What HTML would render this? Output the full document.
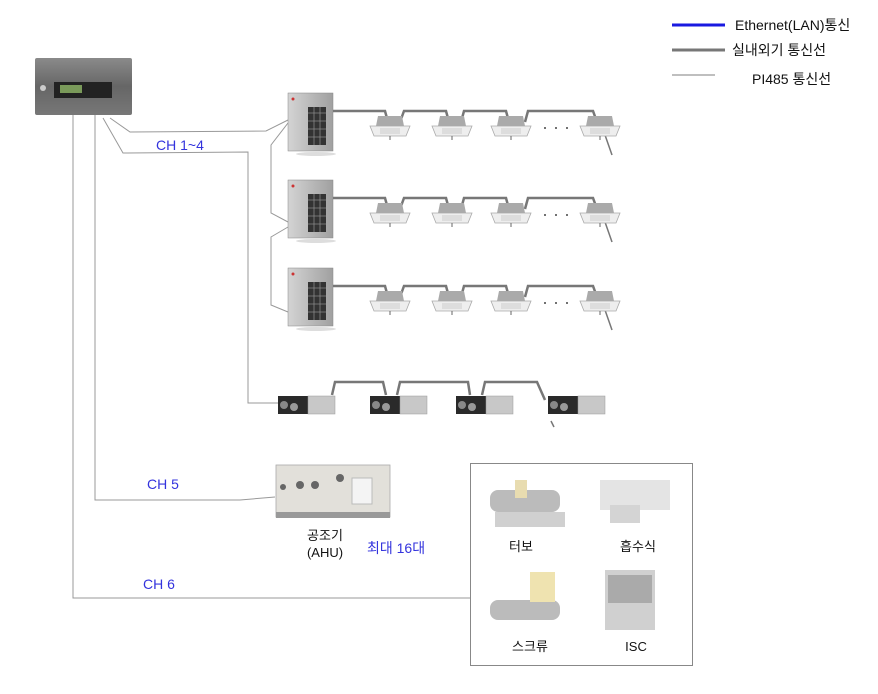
<!DOCTYPE html>
<html><head><meta charset="utf-8"><style>
html,body{margin:0;padding:0;background:#fff;}
svg{display:block;}
text{font-family:"Liberation Sans","Noto Sans CJK KR",sans-serif;}
</style></head><body>
<svg width="878" height="694" viewBox="0 0 878 694" xmlns="http://www.w3.org/2000/svg">
<defs>
<linearGradient id="ctl" x1="0" y1="0" x2="0" y2="1"><stop offset="0" stop-color="#8a8a8a"/><stop offset="0.5" stop-color="#666"/><stop offset="1" stop-color="#777"/></linearGradient>
<linearGradient id="odug" x1="0" y1="0" x2="1" y2="0"><stop offset="0" stop-color="#d4d4d4"/><stop offset="1" stop-color="#a0a0a0"/></linearGradient>
<g id="odu">
<rect x="0" y="0" width="45" height="58" fill="url(#odug)" stroke="#888" stroke-width="0.5"/>
<rect x="20" y="14" width="18" height="38" fill="#333"/>
<g stroke="#888" stroke-width="0.8"><line x1="20" y1="20" x2="38" y2="20"/><line x1="20" y1="28" x2="38" y2="28"/><line x1="20" y1="36" x2="38" y2="36"/><line x1="20" y1="44" x2="38" y2="44"/><line x1="26" y1="14" x2="26" y2="52"/><line x1="32" y1="14" x2="32" y2="52"/></g>
<circle cx="5" cy="6" r="1.5" fill="#c33"/>
<ellipse cx="28" cy="61" rx="20" ry="2" fill="#ddd"/>
</g>
<g id="cas">
<path d="M8 8 L32 8 L34 18 L6 18 Z" fill="#aaa"/>
<path d="M0 18 L40 18 L36 28 L4 28 Z" fill="#eee" stroke="#aaa" stroke-width="0.8"/>
<rect x="10" y="20" width="20" height="6" fill="#ddd"/>
<line x1="20" y1="28" x2="20" y2="32" stroke="#666"/>
</g>
<g id="erv">
<rect x="0" y="2" width="30" height="18" fill="#2a2a2a"/>
<rect x="30" y="2" width="27" height="18" fill="#c8c8c8" stroke="#999" stroke-width="0.5"/>
<circle cx="6" cy="11" r="4" fill="#888"/><circle cx="16" cy="13" r="4" fill="#999"/>
</g>
</defs>

<!-- controller -->
<rect x="35" y="58" width="97" height="57" rx="2" fill="url(#ctl)"/>
<rect x="54" y="82" width="58" height="16" fill="#222"/>
<rect x="60" y="85" width="22" height="8" fill="#7a9a5a"/>
<circle cx="43" cy="88" r="3" fill="#ccc"/>

<!-- PI485 thin lines -->
<g fill="none" stroke="#999" stroke-width="1">
<polyline points="73,115 73,598 470,598"/>
<polyline points="95,115 95,500 240,500 275,497"/>
<polyline points="103,118 123,153 248,152 248,403 278,403"/>
<polyline points="110,118 130,132 266,131 288,120"/>
<polyline points="288,123 271,145 271,213 288,222"/>
<polyline points="288,227 271,237 271,305 288,312"/>
</g>

<!-- ODUs -->
<use href="#odu" x="288" y="93"/>
<use href="#odu" x="288" y="180"/>
<use href="#odu" x="288" y="268"/>

<!-- pipes indoor -->
<g fill="none" stroke="#777" stroke-width="2.5">
<polyline points="333,111 385,111 388,122"/>
<polyline points="400,122 404,111 446,111 449,122"/>
<polyline points="461,122 464,111 506,111 509,122"/>
<polyline points="525,122 528,111 593,111 597,122"/>
<line x1="605" y1="135" x2="612" y2="155" stroke-width="1.5"/>
<polyline points="333,198 385,198 388,209"/>
<polyline points="400,209 404,198 446,198 449,209"/>
<polyline points="461,209 464,198 506,198 509,209"/>
<polyline points="525,209 528,198 593,198 597,209"/>
<line x1="605" y1="222" x2="612" y2="242" stroke-width="1.5"/>
<polyline points="333,286 385,286 388,297"/>
<polyline points="400,297 404,286 446,286 449,297"/>
<polyline points="461,297 464,286 506,286 509,297"/>
<polyline points="525,297 528,286 593,286 597,297"/>
<line x1="605" y1="310" x2="612" y2="330" stroke-width="1.5"/>
<polyline points="332,395 335,382 383,382 386,395"/>
<polyline points="397,395 400,382 468,382 470,395"/>
<polyline points="482,395 485,382 537,382 545,400"/>
<line x1="551" y1="421" x2="554" y2="427" stroke-width="1.5"/>
</g>

<g>
<use href="#cas" x="370" y="108"/><use href="#cas" x="432" y="108"/><use href="#cas" x="491" y="108"/><use href="#cas" x="580" y="108"/>
<use href="#cas" x="370" y="195"/><use href="#cas" x="432" y="195"/><use href="#cas" x="491" y="195"/><use href="#cas" x="580" y="195"/>
<use href="#cas" x="370" y="283"/><use href="#cas" x="432" y="283"/><use href="#cas" x="491" y="283"/><use href="#cas" x="580" y="283"/>
</g>
<g fill="#444"><circle cx="545" cy="128" r="1"/><circle cx="556" cy="128" r="1"/><circle cx="567" cy="128" r="1"/>
<circle cx="545" cy="215" r="1"/><circle cx="556" cy="215" r="1"/><circle cx="567" cy="215" r="1"/>
<circle cx="545" cy="303" r="1"/><circle cx="556" cy="303" r="1"/><circle cx="567" cy="303" r="1"/></g>

<!-- ERV -->
<use href="#erv" x="278" y="394"/><use href="#erv" x="370" y="394"/><use href="#erv" x="456" y="394"/><use href="#erv" x="548" y="394"/>

<!-- AHU -->
<rect x="276" y="465" width="114" height="52" fill="#e2e0da" stroke="#aaa" stroke-width="0.8"/>
<rect x="276" y="512" width="114" height="6" fill="#999"/>
<rect x="352" y="478" width="20" height="26" fill="#f4f4f4" stroke="#bbb"/>
<circle cx="340" cy="478" r="4" fill="#666"/><circle cx="315" cy="485" r="4" fill="#666"/><circle cx="300" cy="485" r="4" fill="#666"/><circle cx="283" cy="487" r="3" fill="#666"/>

<!-- box -->
<rect x="470.5" y="463.5" width="222" height="202" fill="none" stroke="#888" stroke-width="1"/>
<rect x="490" y="490" width="70" height="22" rx="8" fill="#bbb"/>
<rect x="495" y="512" width="70" height="15" fill="#d0d0d0"/>
<rect x="515" y="480" width="12" height="18" fill="#e8dcb0"/>
<rect x="600" y="480" width="70" height="30" fill="#e4e4e4"/>
<rect x="610" y="505" width="30" height="18" fill="#d4d4d4"/>
<rect x="490" y="600" width="70" height="20" rx="8" fill="#bbb"/>
<rect x="530" y="572" width="25" height="30" fill="#efe3b0"/>
<rect x="605" y="570" width="50" height="60" fill="#d0d0d0"/>
<rect x="608" y="575" width="44" height="28" fill="#aaa"/>

<g font-size="14" fill="#3333dd">
<text x="156" y="150">CH 1~4</text>
<text x="147" y="489">CH 5</text>
<text x="143" y="589">CH 6</text>
<text x="367" y="553">최대 16대</text>
</g>
<g font-size="13" fill="#111" text-anchor="middle">
<text x="325" y="540">공조기</text>
<text x="325" y="557">(AHU)</text>
<text x="521" y="551">터보</text>
<text x="638" y="551">흡수식</text>
<text x="530" y="651">스크류</text>
<text x="636" y="651">ISC</text>
</g>

<!-- legend -->
<line x1="672" y1="25" x2="725" y2="25" stroke="#1a1ae0" stroke-width="3"/>
<line x1="672" y1="50" x2="725" y2="50" stroke="#777" stroke-width="3"/>
<line x1="672" y1="75" x2="715" y2="75" stroke="#aaa" stroke-width="1.5"/>
<g font-size="14" fill="#111">
<text x="735" y="30">Ethernet(LAN)통신</text>
<text x="732" y="55">실내외기 통신선</text>
<text x="752" y="84">PI485  통신선</text>
</g>
</svg>
</body></html>
